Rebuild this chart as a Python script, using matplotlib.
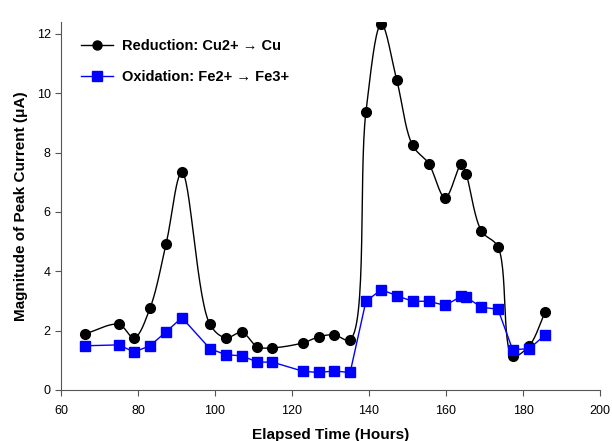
import numpy as np
import matplotlib
matplotlib.use("Agg")
import matplotlib.pyplot as plt

plt.rcParams['font.family'] = ['Liberation Sans', 'DejaVu Sans']

# elapsed time (hours) and peak current magnitude (uA)
hours = [66.2, 75.0, 79.0, 83.1, 87.3, 91.4, 98.7, 102.8, 107.0, 111.0,
         114.9, 122.9, 126.9, 130.9, 135.1, 139.2, 143.2, 147.2, 151.3, 155.5,
         159.8, 164.0, 165.2, 169.2, 173.5, 177.3, 181.6, 185.8]
cu_red = [1.89, 2.21, 1.76, 2.75, 4.92, 7.33, 2.21, 1.76, 1.94, 1.46,
          1.42, 1.59, 1.79, 1.86, 1.70, 9.37, 12.33, 10.45, 8.25, 7.63,
          6.48, 7.61, 7.29, 5.36, 4.82, 1.15, 1.49, 2.64]
fe_ox = [1.49, 1.52, 1.28, 1.49, 1.96, 2.44, 1.39, 1.19, 1.15, 0.94,
         0.94, 0.63, 0.59, 0.64, 0.59, 2.99, 3.38, 3.18, 2.99, 2.99,
         2.85, 3.16, 3.13, 2.79, 2.72, 1.36, 1.39, 1.86]


def smooth(x, y, sx=3.85, sy=29.75, n=30):
    # centripetal catmull-rom through the points, worked out in screen-like units
    P = np.column_stack([np.asarray(x, float) * sx, np.asarray(y, float) * sy])
    P = np.vstack([2 * P[0] - P[1], P, 2 * P[-1] - P[-2]])
    out = []
    for i in range(1, len(P) - 2):
        P0, P1, P2, P3 = P[i - 1], P[i], P[i + 1], P[i + 2]
        t0 = 0.0
        t1 = t0 + np.linalg.norm(P1 - P0) ** 0.5
        t2 = t1 + np.linalg.norm(P2 - P1) ** 0.5
        t3 = t2 + np.linalg.norm(P3 - P2) ** 0.5
        t = np.linspace(t1, t2, n, endpoint=False)[:, None]
        A1 = (t1 - t) / (t1 - t0) * P0 + (t - t0) / (t1 - t0) * P1
        A2 = (t2 - t) / (t2 - t1) * P1 + (t - t1) / (t2 - t1) * P2
        A3 = (t3 - t) / (t3 - t2) * P2 + (t - t2) / (t3 - t2) * P3
        B1 = (t2 - t) / (t2 - t0) * A1 + (t - t0) / (t2 - t0) * A2
        B2 = (t3 - t) / (t3 - t1) * A2 + (t - t1) / (t3 - t1) * A3
        C = (t2 - t) / (t2 - t1) * B1 + (t - t1) / (t2 - t1) * B2
        out.append(C)
    out.append(P[-2][None, :])
    out = np.vstack(out)
    return out[:, 0] / sx, out[:, 1] / sy


fig = plt.figure(figsize=(6.12, 4.41), dpi=100)
ax = fig.add_axes([61 / 612, 1 - 390 / 441, 539 / 612, 368 / 441])

lx, ly = smooth(hours, cu_red)
ax.plot(lx, ly, color='black', lw=1.0)
ax.plot(hours, cu_red, 'o', color='black', ms=7, ls='none')
ax.plot([], [], '-o', color='black', ms=6.5, lw=1.0, label='Reduction: Cu2+ \u2192 Cu')

ax.plot(hours, fe_ox, color='blue', lw=1.0)
ax.plot(hours, fe_ox, 's', color='blue', ms=6.5, ls='none')
ax.plot([], [], '-s', color='blue', ms=6.5, lw=1.0, label='Oxidation: Fe2+ \u2192 Fe3+')

ax.set_xlim(60, 200)
ax.set_ylim(0, 12.4)
ax.set_xticks(range(60, 201, 20))
ax.set_yticks(range(0, 13, 2))
ax.spines['top'].set_visible(False)
ax.spines['right'].set_visible(False)
for s in ('left', 'bottom'):
    ax.spines[s].set_color('#555555')
ax.tick_params(direction='out', length=4, labelsize=9, color='#555555')
ax.tick_params(axis='x', pad=7)

ax.set_xlabel('Elapsed Time (Hours)', fontsize=11, fontweight='bold', labelpad=8)
ax.set_ylabel('Magnitude of Peak Current (\u03bcA)', fontsize=11, fontweight='bold', labelpad=6)

leg = ax.legend(loc='upper left', bbox_to_anchor=(0.013, 0.99), frameon=False,
                prop={'weight': 'bold', 'size': 10.5}, labelspacing=1.2,
                handlelength=2.2, handletextpad=0.6)

fig.savefig('out.png', dpi=100)
